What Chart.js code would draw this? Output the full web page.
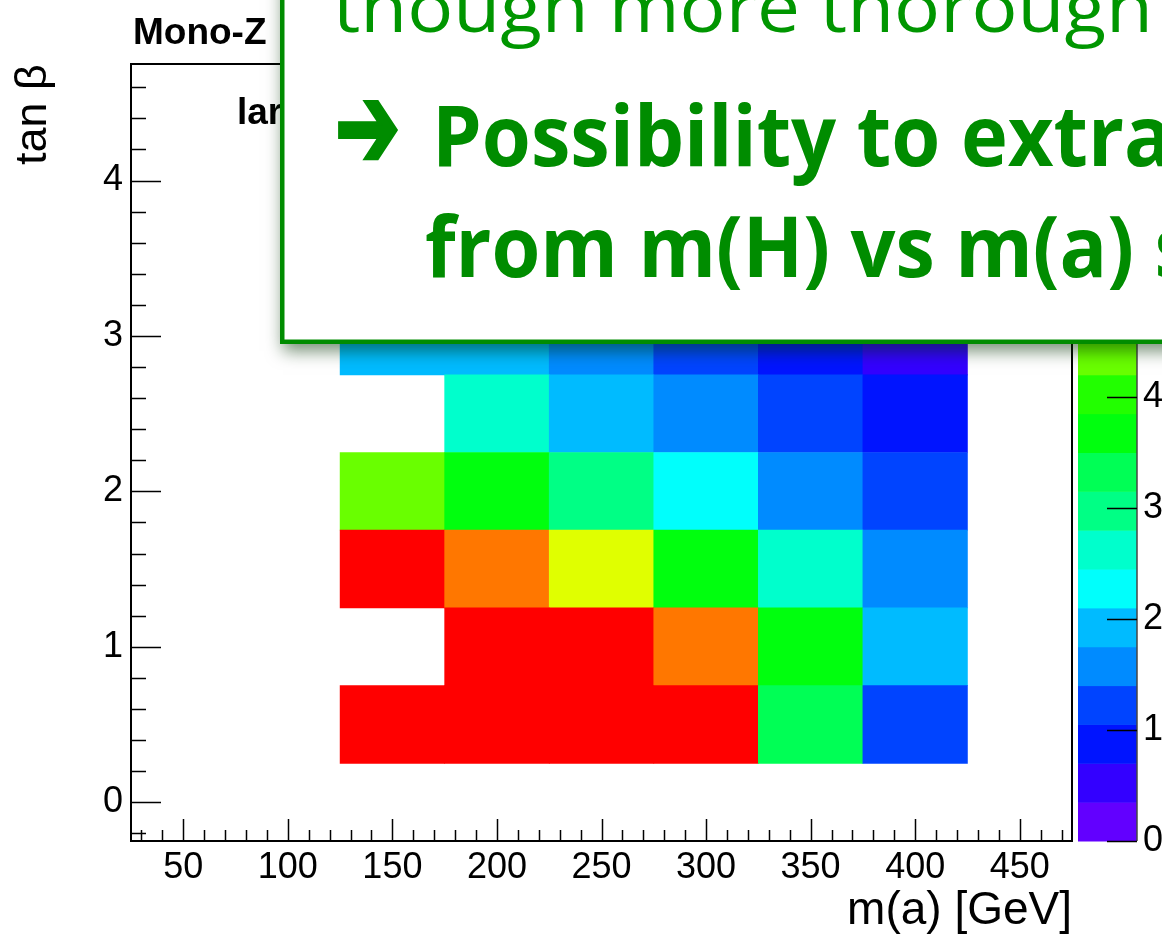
<!DOCTYPE html>
<html><head><meta charset="utf-8">
<script src="https://cdn.jsdelivr.net/npm/chart.js@4.4.1/dist/chart.umd.min.js"></script>
<style>html,body{margin:0;padding:0;background:#fff;overflow:hidden}canvas{display:block}</style>
</head><body>
<canvas id="c" width="1162" height="935"></canvas>
<script>
// ---- data ----
const massA   = [150, 200, 250, 300, 350, 400];          // m(a) bin centres [GeV]
const tanBeta = [0.5, 1.0, 1.5, 2.0, 2.5, 3.0];          // tan beta bin centres
const zRow050 = [6.9, 6.9, 6.9, 6.9, 3.3, 1.2];
const zRow100 = [null, 6.9, 6.9, 6.1, 3.7, 1.9];
const zRow150 = [6.9, 6.1, 5.1, 3.7, 2.6, 1.6];
const zRow200 = [4.4, 3.7, 3.0, 2.3, 1.6, 1.2];
const zRow250 = [null, 2.6, 1.9, 1.6, 1.2, 0.9];
const zRow300 = [1.9, 1.9, 1.6, 1.2, 0.9, 0.5];
const xTickLabels = [50, 100, 150, 200, 250, 300, 350, 400, 450];
const yTickLabels = [0, 1, 2, 3, 4];
const zTickLabels = [0, 1, 2, 3, 4, 5, 6, 7];

// ---- style ----
const zMin = 0, zMax = 7, nContours = 20;
const palette = ['#6200FF','#3300FF','#0014FF','#0044FF','#008BFF','#00BBFF','#00FFFC','#00FFCC','#00FF85','#00FF55',
                 '#00FF0E','#22FF00','#69FF00','#99FF00','#E0FF00','#FFEE00','#FFA700','#FF7700','#FF3000','#FF0000'];
const binHalfY = 0.25;
function colorFor(v){
  let k = Math.floor((v - zMin) / (zMax - zMin) * nContours);
  k = Math.max(0, Math.min(nContours - 1, k));
  return palette[k];
}
const rows = [zRow050, zRow100, zRow150, zRow200, zRow250, zRow300];
const datasets = rows.map((row, r) => {
  const pts = [], cols = [];
  row.forEach((v, i) => {
    if (v === null) return;
    pts.push({x: massA[i], y: [tanBeta[r] - binHalfY, tanBeta[r] + binHalfY]});
    cols.push(colorFor(v));
  });
  return {type: 'bar', data: pts, backgroundColor: cols, borderWidth: 0};
});

const FONT = '"Liberation Sans", Arial, Helvetica, sans-serif';

function fitText(ctx, text, ref, x, y, targetW, strokeW){
  const w = ctx.measureText(ref).width;
  ctx.save(); ctx.translate(x, y); ctx.scale(targetW / w, 1);
  ctx.fillText(text, 0, 0);
  if (strokeW) { ctx.lineWidth = strokeW; ctx.lineJoin = 'miter'; ctx.strokeText(text, 0, 0); }
  ctx.restore();
}
function noPad(s){ s.paddingTop = 0; s.paddingBottom = 0; s.paddingLeft = 0; s.paddingRight = 0; }

const rootPlugin = {
  id: 'rootStyle',
  afterDraw(chart){
    const ctx = chart.ctx, a = chart.chartArea;
    const xs = chart.scales.x, ys = chart.scales.y, zs = chart.scales.z;
    ctx.save();
    // frame
    ctx.strokeStyle = '#000'; ctx.lineWidth = 2;
    ctx.strokeRect(a.left, a.top, a.right - a.left, a.bottom - a.top);
    // x ticks (inside)
    ctx.lineWidth = 1.5;
    ctx.beginPath();
    for (let v = 30; v <= 470; v += 10) {
      const px = Math.round(xs.getPixelForValue(v)) + 0.5;
      const len = (v % 50 === 0) ? 22 : 11;
      ctx.moveTo(px, a.bottom); ctx.lineTo(px, a.bottom - len);
    }
    // y ticks (inside)
    for (let i = -1; i <= 23; i++) {
      const py = Math.round(ys.getPixelForValue(i * 0.2)) + 0.5;
      const len = (i % 5 === 0) ? 30 : 15;
      ctx.moveTo(a.left, py); ctx.lineTo(a.left + len, py);
    }
    ctx.stroke();
    // colour bar
    const cbL = 1078, cbR = 1137;
    for (let k = 0; k < nContours; k++) {
      const y0 = zs.getPixelForValue(zMin + k * (zMax - zMin) / nContours);
      const y1 = zs.getPixelForValue(zMin + (k + 1) * (zMax - zMin) / nContours);
      ctx.fillStyle = palette[k];
      ctx.fillRect(cbL, y1, cbR - cbL, y0 - y1 + 0.5);
    }
    ctx.strokeStyle = '#444'; ctx.lineWidth = 1.5;
    ctx.beginPath(); ctx.moveTo(cbR, a.top); ctx.lineTo(cbR, a.bottom); ctx.stroke();
    ctx.strokeStyle = '#000'; ctx.lineWidth = 1.5;
    ctx.beginPath();
    zTickLabels.forEach(v => {
      const py = Math.round(zs.getPixelForValue(v)) + 0.5;
      ctx.moveTo(cbR - 30, py); ctx.lineTo(cbR, py);
    });
    ctx.stroke();
    // titles
    ctx.fillStyle = '#000';
    ctx.font = 'bold 37px ' + FONT; ctx.textAlign = 'left'; ctx.textBaseline = 'alphabetic';
    ctx.fillText('Mono-Z', 133, 44);
    ctx.fillText('lar', 237, 124);
    ctx.font = '46px ' + FONT; ctx.textAlign = 'right';
    ctx.fillText('m(a) [GeV]', a.right, 924);
    ctx.save();
    ctx.translate(46, 165); ctx.rotate(-Math.PI / 2);
    ctx.textAlign = 'left'; ctx.font = '45px ' + FONT;
    ctx.fillText('tan \u03B2', 0, 0);
    ctx.restore();
    // overlay box
    ctx.save();
    ctx.shadowColor = 'rgba(0,50,0,0.55)'; ctx.shadowBlur = 16; ctx.shadowOffsetX = 3; ctx.shadowOffsetY = 7;
    ctx.fillStyle = '#fff';
    ctx.fillRect(280, -40, 1000, 384);
    ctx.restore();
    ctx.strokeStyle = '#008C00'; ctx.lineWidth = 4.5;
    ctx.strokeRect(282.25, -40, 1000, 381.75);
    ctx.fillStyle = '#009600'; ctx.textAlign = 'left'; ctx.textBaseline = 'alphabetic';
    ctx.font = '400 70px "Open Sans", "Noto Sans", sans-serif';
    fitText(ctx, 'though more thorough', 'though more thorough', 333, 32, 820);
    ctx.fillStyle = '#008C00'; ctx.strokeStyle = '#008C00';
    ctx.font = 'bold 118px "DejaVu Sans", sans-serif';
    fitText(ctx, '\u2794', '\u2794', 335, 167, 65, 4);
    ctx.font = '700 84px "Open Sans", "Noto Sans", sans-serif';
    fitText(ctx, 'Possibility to extract', 'Possibility to extr', 432, 166, 692);
    fitText(ctx, 'from m(H) vs m(a) scan', 'from m(H) vs m(a)', 425, 277, 709);
    ctx.restore();
  }
};

new Chart(document.getElementById('c'), {
  type: 'bar',
  data: {datasets},
  plugins: [rootPlugin],
  options: {
    responsive: false, animation: false, devicePixelRatio: 1,
    layout: {padding: {top: 64, left: 0, right: 0, bottom: 0}},
    plugins: {legend: {display: false}, tooltip: {enabled: false}, title: {display: false}},
    datasets: {bar: {grouped: false, barPercentage: 1, categoryPercentage: 1, borderWidth: 0}},
    scales: {
      x: {type: 'linear', min: 25, max: 475, offset: false,
          grid: {display: false}, border: {display: false},
          afterBuildTicks(s){ s.ticks = xTickLabels.map(v => ({value: v})); },
          afterFit(s){ s.height = 94; noPad(s); },
          ticks: {autoSkip: false, maxRotation: 0, color: '#000', padding: -3, font: {family: FONT, size: 36}}},
      y: {type: 'linear', min: -0.25, max: 4.75,
          grid: {display: false}, border: {display: false},
          afterBuildTicks(s){ s.ticks = yTickLabels.map(v => ({value: v})); },
          afterFit(s){ s.width = 131; noPad(s); },
          ticks: {autoSkip: false, color: '#000', padding: 0, font: {family: FONT, size: 36}}},
      z: {type: 'linear', position: 'right', min: zMin, max: zMax,
          grid: {display: false}, border: {display: false},
          afterBuildTicks(s){ s.ticks = zTickLabels.map(v => ({value: v})); },
          afterFit(s){ s.width = 90; noPad(s); },
          ticks: {autoSkip: false, color: '#000', padding: 63, font: {family: FONT, size: 36}}}
    }
  }
});
</script>
</body></html>
